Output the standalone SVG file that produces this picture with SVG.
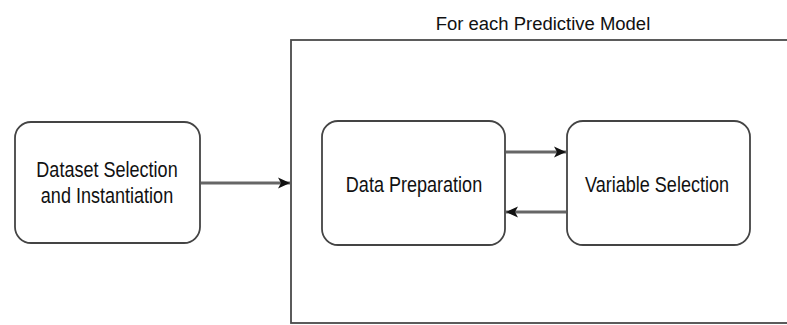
<svg xmlns="http://www.w3.org/2000/svg" width="787" height="325" viewBox="0 0 787 325">
  <defs>
    <style>
      .box { fill: #ffffff; stroke: #444444; stroke-width: 1.8; }
      .frame { fill: none; stroke: #4a4a4a; stroke-width: 1.8; }
      .edge { fill: none; stroke: #666666; stroke-width: 2.8; }
      .lbl { font-family: "Liberation Sans", Arial, sans-serif; font-size: 22px; fill: #111111; text-anchor: middle; }
    </style>
    <marker id="arrow" markerUnits="userSpaceOnUse" markerWidth="14" markerHeight="14" viewBox="0 0 14 14" refX="13" refY="7" orient="auto">
      <path d="M1,1.5 L13,7 L1,12.5 L4,7 Z" fill="#111111"/>
    </marker>
  </defs>

  <rect width="787" height="325" fill="#ffffff"/>

  <!-- loop container -->
  <g id="loop">
    <rect class="frame" x="291" y="40" width="520" height="283"/>
    <text class="lbl" transform="translate(543,30) scale(0.84,0.8)">For each Predictive Model</text>
  </g>

  <g id="dataset">
    <rect class="box" x="15" y="122" width="185" height="121" rx="16" ry="16"/>
    <text class="lbl" transform="translate(107,177) scale(0.82,1)">Dataset Selection</text>
    <text class="lbl" transform="translate(107,203) scale(0.82,1)">and Instantiation</text>
  </g>

  <g id="prep">
    <rect class="box" x="322" y="121" width="183" height="124" rx="16" ry="16"/>
    <text class="lbl" transform="translate(414,192) scale(0.82,1)">Data Preparation</text>
  </g>

  <g id="varsel">
    <rect class="box" x="567" y="121" width="183" height="124" rx="16" ry="16"/>
    <text class="lbl" transform="translate(657,192) scale(0.82,1)">Variable Selection</text>
  </g>

  <!-- connectors -->
  <g id="connectors">
    <line class="edge" x1="201" y1="183" x2="290" y2="183" marker-end="url(#arrow)"/>
    <line class="edge" x1="506" y1="152" x2="566" y2="152" marker-end="url(#arrow)"/>
    <line class="edge" x1="566" y1="212" x2="506" y2="212" marker-end="url(#arrow)"/>
  </g>
</svg>
